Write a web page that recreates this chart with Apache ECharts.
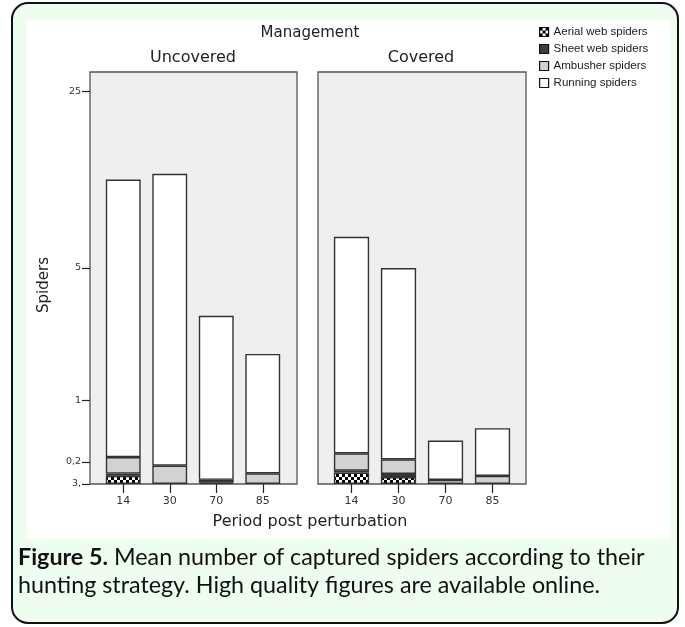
<!DOCTYPE html>
<html><head><meta charset="utf-8">
<script src="https://cdn.jsdelivr.net/npm/echarts@6/dist/echarts.min.js"></script>
<style>html,body{margin:0;padding:0;background:#fff}#c{width:685px;height:627px}</style>
</head><body><div id="c"></div>
<script>
const categories = ['14', '30', '70', '85'];
const seriesNames = ['Aerial web spiders', 'Sheet web spiders', 'Ambusher spiders', 'Running spiders'];
// Uncovered
const aerialUncovered = [0.07, 0, 0.01, 0];
const sheetUncovered = [0.02, 0, 0.025, 0];
const ambusherUncovered = [0.16, 0.164, 0, 0.093];
const runningUncovered = [11.25, 11.94, 3.0, 1.85];
// Covered
const aerialCovered = [0.1, 0.06, 0, 0];
const sheetCovered = [0.017, 0.027, 0, 0];
const ambusherCovered = [0.173, 0.14, 0.034, 0.069];
const runningCovered = [6.48, 4.77, 0.40, 0.52];
// Y ticks
const yTickValues = [0, 0.2, 1, 5, 25];
const yTickLabels = ['3,', '0,2', '1', '5', '25'];
const yMaxValue = 29.5;

const tf = v => Math.log10(v + 1);

function segments(groups) {
  const out = groups.map(() => []);
  for (let i = 0; i < groups[0].length; i++) {
    let cum = 0;
    for (let k = 0; k < groups.length; k++) {
      const v = groups[k][i];
      const seg = tf(cum + v) - tf(cum);
      cum += v;
      out[k].push(v > 0 ? seg : null);
    }
  }
  return out;
}

const pc = document.createElement('canvas');
pc.width = 6; pc.height = 6;
const pctx = pc.getContext('2d');
pctx.fillStyle = '#fff'; pctx.fillRect(0, 0, 6, 6);
pctx.fillStyle = '#000';
pctx.fillRect(0, 0, 3, 3); pctx.fillRect(3, 3, 3, 3);

const fills = [{image: pc, repeat: 'repeat'}, '#3c3c3c', '#d2d2d2', '#ffffff'];

const segU = segments([aerialUncovered, sheetUncovered, ambusherUncovered, runningUncovered]);
const segC = segments([aerialCovered, sheetCovered, ambusherCovered, runningCovered]);

const yCustom = yTickValues.map(tf);
function yLabel(v) {
  let best = 0;
  yCustom.forEach((c, i) => { if (Math.abs(c - v) < Math.abs(yCustom[best] - v)) best = i; });
  return yTickLabels[best];
}

const FONT = 'DejaVu Sans';
function yAxis(gi, show) {
  return {
    type: 'value', gridIndex: gi, min: 0, max: tf(yMaxValue), offset: 10,
    splitLine: {show: false}, axisLine: {show: false},
    axisTick: {show: show, customValues: yCustom, length: 8, lineStyle: {color: '#222', width: 1.2}},
    axisLabel: {show: show, customValues: yCustom, formatter: yLabel, margin: 9, fontSize: 9.5, color: '#333', fontFamily: FONT}
  };
}
function xAxis(gi) {
  return {
    type: 'category', gridIndex: gi, data: categories,
    axisLine: {show: false},
    axisTick: {show: true, alignWithLabel: true, length: 9, lineStyle: {color: '#222', width: 1.2}},
    axisLabel: {margin: 12, fontSize: 11, color: '#333', fontFamily: FONT}
  };
}

const series = [];
[segU, segC].forEach((seg, gi) => {
  seriesNames.forEach((name, k) => {
    series.push({
      name, type: 'bar', stack: 'g' + gi, xAxisIndex: gi, yAxisIndex: gi,
      barWidth: '75%', data: seg[k],
      itemStyle: {color: fills[k], borderColor: '#333', borderWidth: 1.4},
      emphasis: {disabled: true}
    });
  });
});

const chart = echarts.init(document.getElementById('c'), null, {renderer: 'canvas'});
chart.setOption({
  animation: false,
  backgroundColor: '#fff',
  grid: [
    {left: 100, width: 186, top: 72, height: 412},
    {left: 328, width: 188, top: 72, height: 412}
  ],
  xAxis: [xAxis(0), xAxis(1)],
  yAxis: [yAxis(0, true), yAxis(1, false)],
  legend: {
    orient: 'vertical', left: 534, top: 21, itemGap: 5, itemWidth: 9, itemHeight: 9,
    icon: 'rect',
    data: seriesNames, selectedMode: false,
    itemStyle: {borderColor: '#111', borderWidth: 1.2},
    textStyle: {fontSize: 11.5, color: '#1a1a1a', fontFamily: 'Liberation Sans'}
  },
  graphic: [
    {type: 'rect', z: -20, shape: {x: 12, y: 3, width: 666, height: 620, r: 16},
     style: {fill: '#edfdf0', stroke: '#111', lineWidth: 2}},
    {type: 'rect', z: -19, shape: {x: 27, y: 20, width: 643, height: 519},
     style: {fill: '#fff'}},
    {type: 'rect', z: -18, shape: {x: 90, y: 72, width: 207, height: 412},
     style: {fill: '#efefef', stroke: '#555', lineWidth: 1.3}},
    {type: 'rect', z: -18, shape: {x: 318, y: 72, width: 208, height: 412},
     style: {fill: '#efefef', stroke: '#555', lineWidth: 1.3}},
    {type: 'text', z: 5, x: 310, y: 33, style: {text: 'Management', fontSize: 15, fontFamily: FONT, fill: '#222', align: 'center', verticalAlign: 'middle'}},
    {type: 'text', z: 5, x: 193, y: 58, style: {text: 'Uncovered', fontSize: 16, fontFamily: FONT, fill: '#222', align: 'center', verticalAlign: 'middle'}},
    {type: 'text', z: 5, x: 421, y: 58, style: {text: 'Covered', fontSize: 16, fontFamily: FONT, fill: '#222', align: 'center', verticalAlign: 'middle'}},
    {type: 'text', z: 5, x: 44, y: 285, rotation: Math.PI / 2, style: {text: 'Spiders', fontSize: 15, fontFamily: FONT, fill: '#222', align: 'center', verticalAlign: 'middle'}},
    {type: 'text', z: 5, x: 310, y: 522, style: {text: 'Period post perturbation', fontSize: 16, fontFamily: FONT, fill: '#222', align: 'center', verticalAlign: 'middle'}},
    {type: 'text', z: 5, x: 18, y: 543, style: {
      text: '{b|Figure 5.} Mean number of captured spiders according to their\nhunting strategy. High quality figures are available online.',
      fontSize: 23.3, fontFamily: 'Lato', fill: '#111', lineHeight: 28,
      rich: {b: {fontWeight: 'bold', fontSize: 23.3, fontFamily: 'Lato', fill: '#111'}}
    }}
  ],
  series
});
</script></body></html>
